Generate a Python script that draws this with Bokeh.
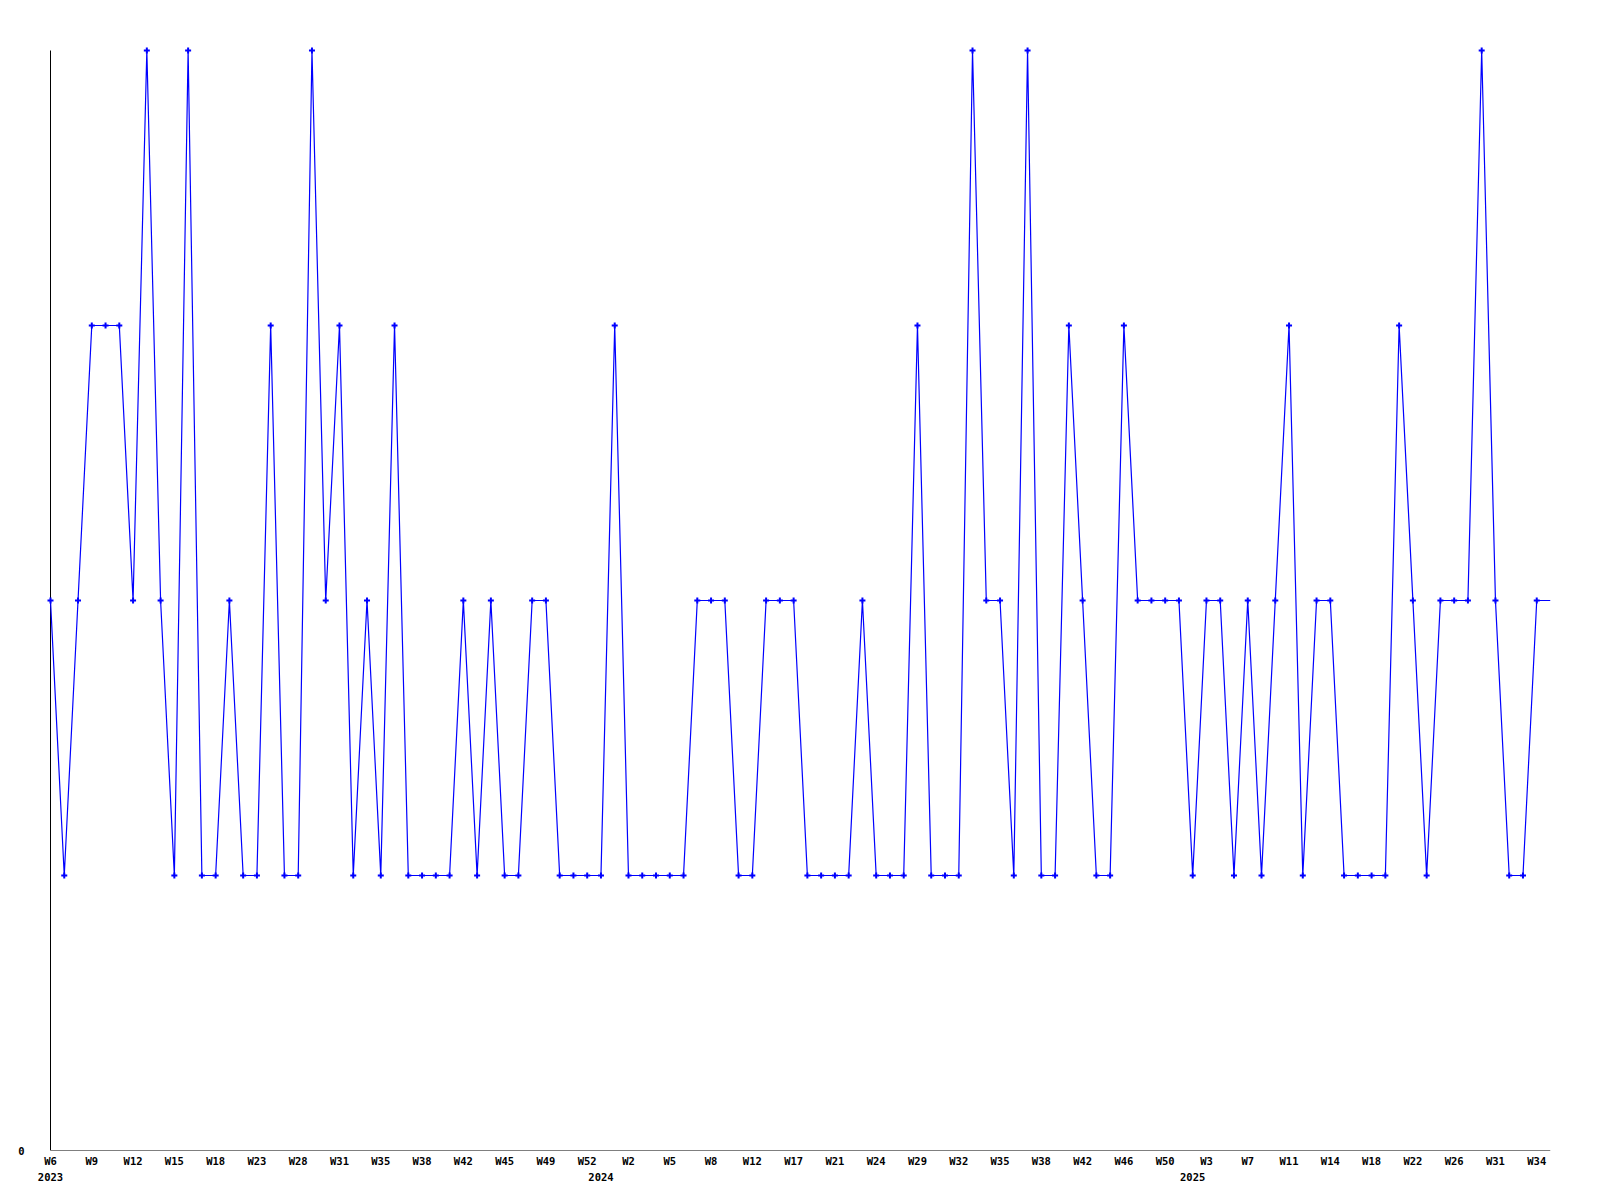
from bokeh.plotting import figure
from bokeh.models import Range1d, FixedTicker, LinearAxis, ColumnDataSource
from bokeh.embed import file_html
from bokeh.resources import INLINE

# Weekly counts, one per plotted week (last value = current, unmarked week)
values = [2, 1, 2, 3, 3, 3, 2, 4, 2, 1,
          4, 1, 1, 2, 1, 1, 3, 1, 1, 4,
          2, 3, 1, 2, 1, 3, 1, 1, 1, 1,
          2, 1, 2, 1, 1, 2, 2, 1, 1, 1,
          1, 3, 1, 1, 1, 1, 1, 2, 2, 2,
          1, 1, 2, 2, 2, 1, 1, 1, 1, 2,
          1, 1, 1, 3, 1, 1, 1, 4, 2, 2,
          1, 4, 1, 1, 3, 2, 1, 1, 3, 2,
          2, 2, 2, 1, 2, 2, 1, 2, 1, 2,
          3, 1, 2, 2, 1, 1, 1, 1, 3, 2,
          1, 2, 2, 2, 4, 2, 1, 1, 2,
          2]

# Week tick labels (every third plotted week)
week_labels = ["W6", "W9", "W12", "W15", "W18", "W23", "W28", "W31", "W35",
               "W38", "W42", "W45", "W49", "W52", "W2", "W5", "W8", "W12",
               "W17", "W21", "W24", "W29", "W32", "W35", "W38", "W42", "W46",
               "W50", "W3", "W7", "W11", "W14", "W18", "W22", "W26", "W31",
               "W34"]
label_step = 3

# Year labels at the first plotted week of each year
years = ["2023", "2024", "2025"]
year_index = [0, 40, 83]

y_ticks = [0]
y_max = 4

n = len(values)
xs = list(range(n))

# layout: plot area 1500 x 1100 px for the data span, plus 6 px room for markers
pad_px = 6
plot_w, plot_h = 1500, 1100
pad_x = pad_px * (n - 1) / plot_w
pad_y = pad_px * y_max / plot_h

p = figure(width=1592, height=1192, output_backend="svg", toolbar_location=None,
           x_range=Range1d(-pad_x, n - 1), y_range=Range1d(0, y_max + pad_y),
           min_border_left=50 - pad_px, min_border_right=42,
           min_border_top=50 - pad_px, min_border_bottom=42)
p.outline_line_color = None
p.grid.visible = False
p.background_fill_color = "white"
p.border_fill_color = "white"

# axis lines drawn at the data origin
p.segment(x0=[0, 0], y0=[0, 0], x1=[n - 1, 0], y1=[0, y_max],
          line_color="black", line_width=1)

src_line = ColumnDataSource(dict(x=xs, y=values))
src_pts = ColumnDataSource(dict(x=xs[:-1], y=values[:-1]))
p.line("x", "y", source=src_line, line_color="#0000ff", line_width=1.2)
p.scatter("x", "y", source=src_pts, marker="cross", size=6, line_width=2,
          line_color="#0000ff")

font = "DejaVu Sans Mono"

# X axis (weeks)
xa = p.xaxis[0]
tick_pos = [i * label_step for i in range(len(week_labels))]
xa.ticker = FixedTicker(ticks=tick_pos)
xa.major_label_overrides = {t: lab for t, lab in zip(tick_pos, week_labels)}
xa.major_tick_in = 0
xa.major_tick_out = 0
xa.minor_tick_in = 0
xa.minor_tick_out = 0
xa.axis_line_color = None
xa.major_label_text_font = font
xa.major_label_text_font_style = "bold"
xa.major_label_text_font_size = "10.5px"
xa.major_label_text_color = "black"
xa.major_label_standoff = 4

# Year axis
ya2 = LinearAxis(ticker=FixedTicker(ticks=year_index),
                 major_label_overrides={i: y for i, y in zip(year_index, years)})
ya2.axis_line_color = None
ya2.major_tick_in = 0
ya2.major_tick_out = 0
ya2.minor_tick_in = 0
ya2.minor_tick_out = 0
ya2.major_label_text_font = font
ya2.major_label_text_font_style = "bold"
ya2.major_label_text_font_size = "10.5px"
ya2.major_label_text_color = "black"
ya2.major_label_standoff = 3
p.add_layout(ya2, "below")

# Y axis
yax = p.yaxis[0]
yax.ticker = FixedTicker(ticks=y_ticks)
yax.major_tick_in = 0
yax.major_tick_out = 0
yax.minor_tick_in = 0
yax.minor_tick_out = 0
yax.axis_line_color = None
yax.major_label_text_font = font
yax.major_label_text_font_style = "bold"
yax.major_label_text_font_size = "10.5px"
yax.major_label_text_color = "black"
yax.major_label_standoff = 26 - pad_px

open("out.html", "w").write(file_html(p, INLINE))
